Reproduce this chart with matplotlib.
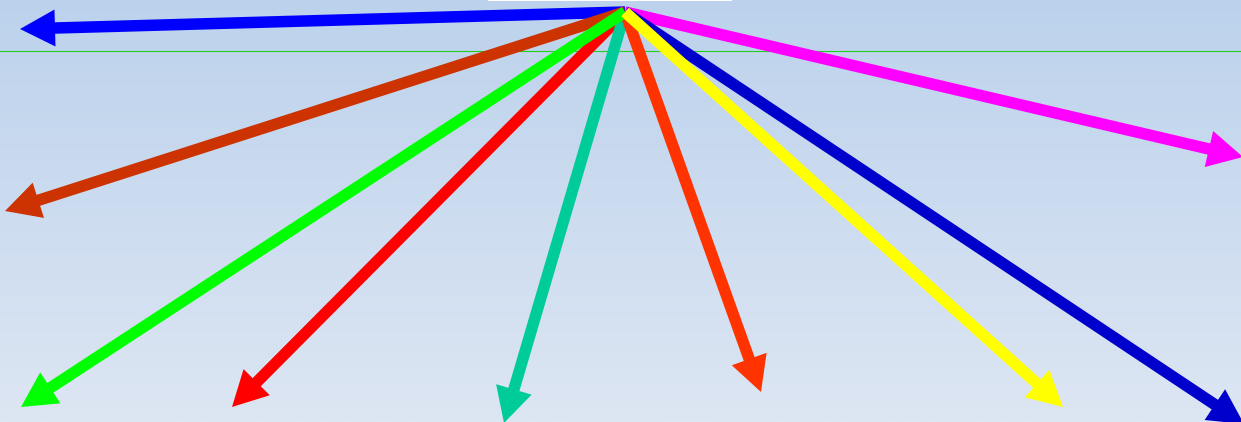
import numpy as np
import matplotlib
matplotlib.use("Agg")
import matplotlib.pyplot as plt
from matplotlib.colors import LinearSegmentedColormap

# --- Data (pixel space, y grows downward) ---
W, H = 1241, 422
ORIGIN_X = 625
ORIGIN_Y = 12
end_x = [20, 5, 21, 232, 504, 761, 1063, 1244, 1243]
end_y = [29, 211, 407, 407, 423, 392, 407, 424, 157]
colors = ['#0000ff', '#cc3300', '#00ff00', '#ff0000', '#00cc99',
          '#ff3300', '#ffff00', '#0000cc', '#ff00ff']
draw_order = [0, 8, 1, 3, 4, 5, 7, 2, 6]

GUIDE_Y = 51

fig = plt.figure(figsize=(W / 100, H / 100), dpi=100)
ax = fig.add_axes([0, 0, 1, 1])
ax.set_xlim(0, W)
ax.set_ylim(H, 0)
ax.axis('off')

# background gradient
bg = LinearSegmentedColormap.from_list('bg', ['#bcd2ec', '#dde6f3'])
grad = np.linspace(0, 1, 256).reshape(-1, 1)
ax.imshow(grad, cmap=bg, extent=[0, W, H, 0], aspect='auto', zorder=0)

# thin guide line and white strip at the top
ax.axhline(GUIDE_Y, color='#22cc22', lw=0.8, zorder=1)
ax.fill_between([488, 732], 0, 1.4, color='white', lw=0, zorder=1)

for z, i in enumerate(draw_order):
    ax.arrow(ORIGIN_X, ORIGIN_Y, end_x[i] - ORIGIN_X, end_y[i] - ORIGIN_Y,
             width=11.5, head_width=37, head_length=35,
             length_includes_head=True, color=colors[i], lw=0, zorder=2 + z)

fig.savefig('out.png', dpi=100)
